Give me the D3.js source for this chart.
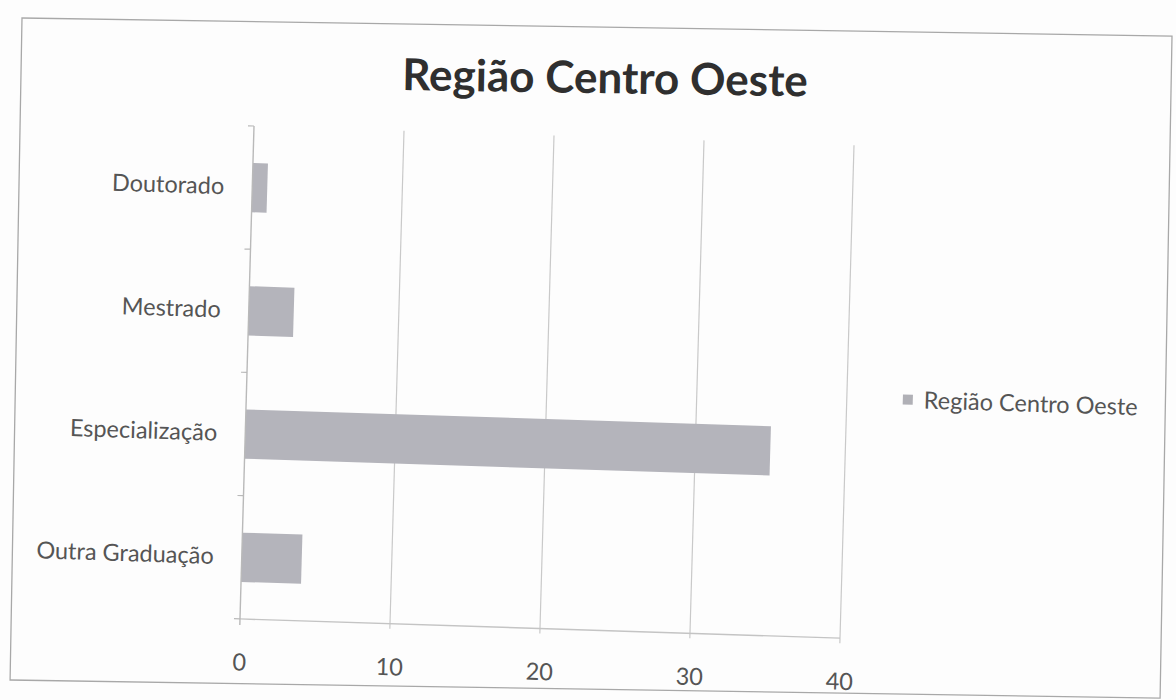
<!DOCTYPE html>
<html>
<head>
<meta charset="utf-8">
<script src="https://cdn.jsdelivr.net/npm/d3@7/dist/d3.min.js"></script>
<style>
  html, body { margin: 0; padding: 0; background: #fdfdfd; }
  svg { display: block; }
  text { font-family: Lato, "Open Sans", sans-serif; }
</style>
</head>
<body>
<svg id="chart" width="1176" height="700"></svg>
<script>
// ---- data ----
const title = "Região Centro Oeste";
const seriesName = "Região Centro Oeste";
const categories = ["Doutorado", "Mestrado", "Especialização", "Outra Graduação"];
const values = [1, 3, 35, 4];
const xTicks = [0, 10, 20, 30, 40];

// ---- layout (design frame, later skewed like the scan) ----
const W = 1176, H = 700;
const plot = { left: 250, right: 850, top: 130, bottom: 620 };
const labelSize = 23.5;

const svg = d3.select("#chart");
svg.append("rect").attr("width", W).attr("height", H).attr("fill", "#fdfdfd");

// outer chart border + title (scanned page is slightly rotated/warped)
const borderG = svg.append("g")
  .attr("transform", "matrix(1,0.0157,-0.018,1,22,18)");
borderG.append("rect")
  .attr("x", 0).attr("y", 0).attr("width", 1150).attr("height", 662)
  .attr("fill", "none").attr("stroke", "#a8a8a8").attr("stroke-width", 1.3);
borderG.append("text")
  .attr("x", 584).attr("y", 66)
  .attr("text-anchor", "middle")
  .attr("font-size", 44).attr("font-weight", 700)
  .attr("fill", "#2f2f2f")
  .text(title);

const g = svg.append("g")
  .attr("transform", "matrix(1,0.032,-0.0286,1.006,7.72,-12.8)");

const x = d3.scaleLinear().domain([0, 40]).range([plot.left, plot.right]);
const y = d3.scaleBand().domain(categories)
  .range([plot.top, plot.bottom]).paddingInner(0.6).paddingOuter(0.3);

// vertical gridlines (with small tick extension below)
g.append("g").selectAll("line").data(xTicks.slice(1)).join("line")
  .attr("x1", d => x(d)).attr("x2", d => x(d))
  .attr("y1", plot.top).attr("y2", plot.bottom + 5)
  .attr("stroke", "#c9c9c9").attr("stroke-width", 1.2);

// bottom value axis line
g.append("line")
  .attr("x1", plot.left).attr("x2", plot.right)
  .attr("y1", plot.bottom).attr("y2", plot.bottom)
  .attr("stroke", "#c4c4c4").attr("stroke-width", 1.4);

// bars
g.append("g").selectAll("rect").data(values).join("rect")
  .attr("x", x(0))
  .attr("y", (d, i) => y(categories[i]))
  .attr("width", d => x(d) - x(0))
  .attr("height", y.bandwidth())
  .attr("fill", "#b4b4bb");

// category axis (left) via d3 axis
const yAxis = d3.axisLeft(y).tickSize(0).tickPadding(28);
const ya = g.append("g").attr("transform", `translate(${plot.left},0)`).call(yAxis);
ya.select(".domain").attr("stroke", "#b9b9b9").attr("stroke-width", 1.4)
  .attr("d", `M0,${plot.top}V${plot.bottom + 6}`);
ya.selectAll("text")
  .attr("font-family", "Lato, 'Open Sans', sans-serif")
  .attr("font-size", labelSize).attr("fill", "#555");
// category boundary tick marks
const bounds = d3.range(categories.length + 1).map(i => plot.top + i * y.step());
g.append("g").selectAll("line").data(bounds).join("line")
  .attr("x1", plot.left - 6).attr("x2", plot.left)
  .attr("y1", d => d).attr("y2", d => d)
  .attr("stroke", "#b9b9b9").attr("stroke-width", 1.2);

// value axis labels via d3 axis
const xAxis = d3.axisBottom(x).tickValues(xTicks).tickSize(0).tickPadding(34.5);
const xa = g.append("g").attr("transform", `translate(0,${plot.bottom})`).call(xAxis);
xa.select(".domain").remove();
xa.selectAll("text")
  .attr("font-family", "Lato, 'Open Sans', sans-serif")
  .attr("font-size", labelSize).attr("fill", "#555");

// legend
const lg = g.append("g").attr("transform", "translate(906,376)");
lg.append("rect").attr("x", 0).attr("y", 0).attr("width", 10).attr("height", 10)
  .attr("fill", "#b0b0b6");
lg.append("text").attr("x", 21).attr("y", 5).attr("dy", "0.35em")
  .attr("font-size", labelSize).attr("fill", "#555")
  .text(seriesName);
</script>
</body>
</html>
